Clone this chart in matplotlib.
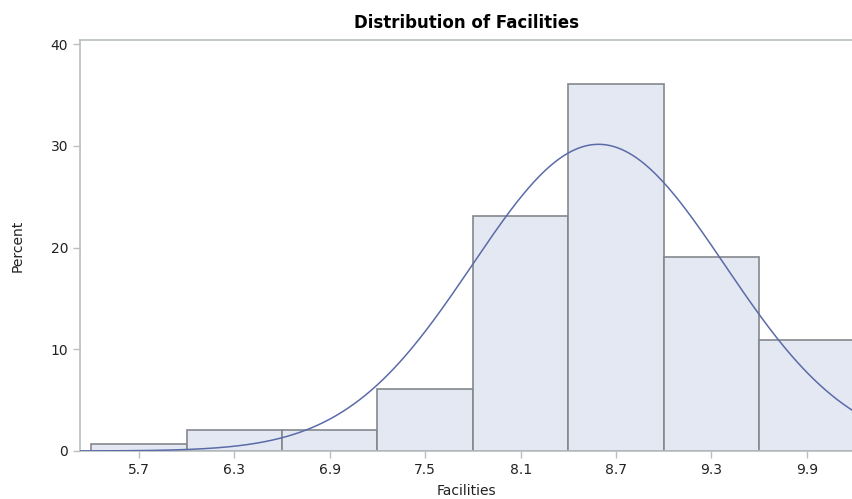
import numpy as np
import matplotlib
matplotlib.use("Agg")
import matplotlib.pyplot as plt

plt.rcParams['font.family'] = ['DejaVu Sans']

# Data
bin_edges = [5.4, 6.0, 6.6, 7.2, 7.8, 8.4, 9.0, 9.6, 10.2]
percents = [0.68, 2.04, 2.04, 6.12, 23.13, 36.05, 19.05, 10.88]
tick_values = [5.7, 6.3, 6.9, 7.5, 8.1, 8.7, 9.3, 9.9]
tick_labels = ["5.7", "6.3", "6.9", "7.5", "8.1", "8.7", "9.3", "9.9"]
y_ticks = [0, 10, 20, 30, 40]
normal_mu = 8.59
normal_sigma = 0.794

fig = plt.figure(figsize=(8.53, 4.99), dpi=100)
ax = fig.add_axes([80/853, 1-451/499, 1-80/853, (451-40)/499])

lefts = bin_edges[:-1]
widths = np.diff(bin_edges)
ax.bar(lefts, percents, width=widths, align='edge', color='#E3E8F2',
       edgecolor='#84888C', linewidth=1.2, zorder=2)

binw = widths[0]
xs = np.linspace(5.33, 10.2, 400)
ys = 100 * binw * np.exp(-0.5 * ((xs - normal_mu) / normal_sigma) ** 2) / (normal_sigma * np.sqrt(2 * np.pi))
ax.plot(xs, ys, color='#5B6BA8', linewidth=1.1, zorder=3)

ax.set_xlim(5.33, 10.19)
ax.set_ylim(0, 40.4)
ax.set_xticks(tick_values)
ax.set_xticklabels(tick_labels)
ax.set_yticks(y_ticks)
for s in ax.spines.values():
    s.set_color('#B8BEC1')
    s.set_linewidth(1.2)
ax.tick_params(axis='both', colors='#B8BEC1', labelcolor='#222222', labelsize=10, length=5, width=1)
ax.set_xlabel("Facilities", fontsize=10, color='#222222', labelpad=5)
ax.set_ylabel("Percent", fontsize=10, color='#222222', labelpad=19)
ax.set_title("Distribution of Facilities", fontsize=12, fontweight='bold', pad=9)

fig.savefig("out.png", dpi=100)
